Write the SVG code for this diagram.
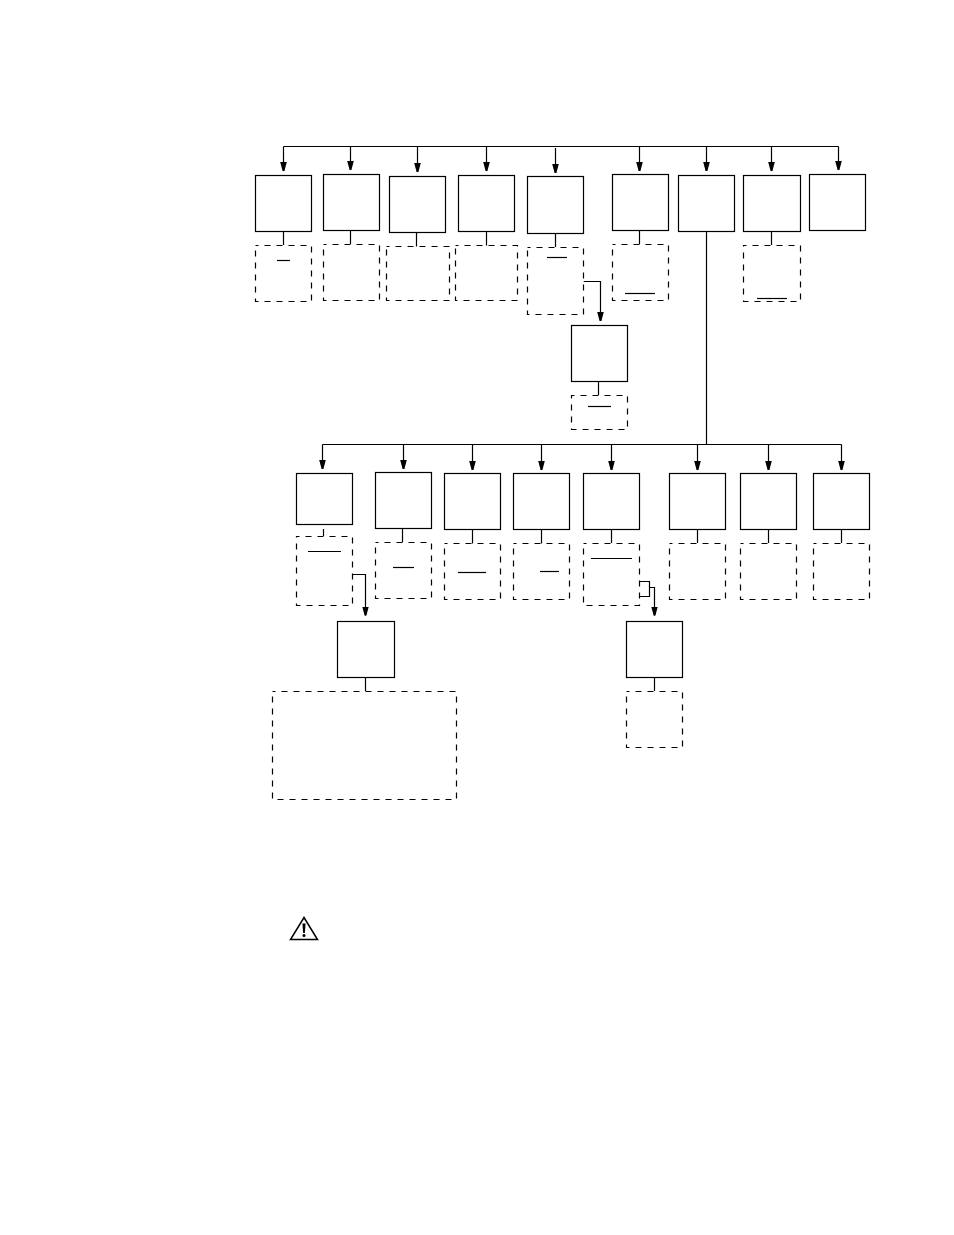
<svg xmlns="http://www.w3.org/2000/svg" width="954" height="1235" viewBox="0 0 954 1235">
<style>
rect{fill:#fff;stroke:#000;stroke-width:1.2}
.d{stroke-dasharray:6 6;stroke-dashoffset:3}
.c path,.c line,.u{fill:none;stroke:#000;stroke-width:1.2}
.a{marker-end:url(#h)}
.w{fill:none;stroke:#000;stroke-width:1.5}
.wf{fill:#000;stroke:none}
</style>
<defs><marker id="h" markerUnits="userSpaceOnUse" markerWidth="9" markerHeight="7" refX="9" refY="3.5" orient="auto" viewBox="0 0 9 7"><path d="M0 .2L9 2.6V4.4L0 6.8Z" fill="#000"/></marker></defs>
<rect width="954" height="1235" style="fill:#fff;stroke:none"/>
<g id="connectors" class="c">
<path d="M283.5 146.5H838.5"/>
<line class="a" x1="283.5" y1="146.5" x2="283.5" y2="171"/>
<line class="a" x1="350.5" y1="146.5" x2="350.5" y2="170"/>
<line class="a" x1="417.5" y1="146.5" x2="417.5" y2="172"/>
<line class="a" x1="486.5" y1="146.5" x2="486.5" y2="171"/>
<line class="a" x1="555.5" y1="148" x2="555.5" y2="173"/>
<line class="a" x1="639.5" y1="146.5" x2="639.5" y2="171"/>
<line class="a" x1="706.5" y1="146.5" x2="706.5" y2="171"/>
<line class="a" x1="771.5" y1="146.5" x2="771.5" y2="171"/>
<line class="a" x1="838.5" y1="146.5" x2="838.5" y2="170"/>
<line x1="283.5" y1="231.5" x2="283.5" y2="245"/>
<line x1="350.5" y1="230.5" x2="350.5" y2="244"/>
<line x1="416.5" y1="232.5" x2="416.5" y2="249"/>
<line x1="486.5" y1="231.5" x2="486.5" y2="248"/>
<line x1="555.5" y1="233.5" x2="555.5" y2="247"/>
<line x1="639.5" y1="230.5" x2="639.5" y2="244"/>
<line x1="771.5" y1="231.5" x2="771.5" y2="245"/>
<line x1="598.5" y1="381.5" x2="598.5" y2="395"/>
<path class="a" d="M583.5 281.5H600.5V321"/>
<path d="M706.5 231.5V444.5"/>
<path d="M322.5 444.5H841.5"/>
<line class="a" x1="322.5" y1="444.5" x2="322.5" y2="469"/>
<line class="a" x1="403.5" y1="444.5" x2="403.5" y2="469"/>
<line class="a" x1="472.5" y1="444.5" x2="472.5" y2="470"/>
<line class="a" x1="541.5" y1="444.5" x2="541.5" y2="470"/>
<line class="a" x1="611.5" y1="444.5" x2="611.5" y2="470"/>
<line class="a" x1="697.5" y1="444.5" x2="697.5" y2="470"/>
<line class="a" x1="768.5" y1="444.5" x2="768.5" y2="470"/>
<line class="a" x1="841.5" y1="444.5" x2="841.5" y2="470"/>
<line x1="323.5" y1="529" x2="323.5" y2="536"/>
<line x1="402.5" y1="528.5" x2="402.5" y2="542"/>
<line x1="472.5" y1="529.5" x2="472.5" y2="546"/>
<line x1="541.5" y1="529.5" x2="541.5" y2="546"/>
<line x1="611.5" y1="529.5" x2="611.5" y2="543"/>
<line x1="697.5" y1="529.5" x2="697.5" y2="543"/>
<line x1="768.5" y1="529.5" x2="768.5" y2="543"/>
<line x1="841.5" y1="529.5" x2="841.5" y2="543"/>
<path class="a" d="M352.5 574.5H365.5V615.5"/>
<line x1="365.5" y1="677.5" x2="365.5" y2="691"/>
<path d="M639.5 581.5H649.5V596.5H639.5"/>
<path class="a" d="M649.5 587.5H654.5V615.5"/>
<line x1="654.5" y1="677.5" x2="654.5" y2="691"/>
</g>
<g id="n1"><rect x="255.5" y="175.5" width="56" height="56"/></g>
<g id="n1d"><rect class="d" x="255.5" y="245.5" width="56" height="56"/><line class="u" x1="277" y1="260.5" x2="290" y2="260.5"/></g>
<g id="n2"><rect x="323.5" y="174.5" width="56" height="56"/></g>
<g id="n2d"><rect class="d" x="323.5" y="244.5" width="56" height="56"/></g>
<g id="n3"><rect x="389.5" y="176.5" width="56" height="56"/></g>
<g id="n3d"><rect class="d" x="386.5" y="246.5" width="63" height="54"/></g>
<g id="n4"><rect x="458.5" y="175.5" width="56" height="56"/></g>
<g id="n4d"><rect class="d" x="455.5" y="245.5" width="62" height="55"/></g>
<g id="n5"><rect x="527.5" y="176.5" width="56" height="57"/></g>
<g id="n5d"><rect class="d" x="527.5" y="247.5" width="56" height="67"/><line class="u" x1="547" y1="257.5" x2="567" y2="257.5"/></g>
<g id="n5b"><rect x="571.5" y="325.5" width="56" height="56"/></g>
<g id="n5bd"><rect class="d" x="571.5" y="395.5" width="56" height="34"/><line class="u" x1="588" y1="406.5" x2="611" y2="406.5"/></g>
<g id="n6"><rect x="612.5" y="174.5" width="56" height="56"/></g>
<g id="n6d"><rect class="d" x="612.5" y="244.5" width="56" height="56"/><line class="u" x1="625" y1="293.5" x2="655" y2="293.5"/></g>
<g id="n7"><rect x="678.5" y="175.5" width="56" height="56"/></g>
<g id="n8"><rect x="743.5" y="175.5" width="57" height="56"/></g>
<g id="n8d"><rect class="d" x="743.5" y="245.5" width="57" height="56"/><line class="u" x1="757" y1="298.5" x2="787" y2="298.5"/></g>
<g id="n9"><rect x="809.5" y="174.5" width="56" height="56"/></g>
<g id="c1"><rect x="296.5" y="473.5" width="56" height="51"/></g>
<g id="c1d"><rect class="d" x="296.5" y="536.5" width="56" height="69"/><line class="u" x1="308" y1="551.5" x2="341" y2="551.5"/></g>
<g id="c1b"><rect x="337.5" y="621.5" width="57" height="56"/></g>
<g id="c1bd"><rect class="d" x="272.5" y="691.5" width="184" height="108"/></g>
<g id="c2"><rect x="375.5" y="472.5" width="56" height="56"/></g>
<g id="c2d"><rect class="d" x="375.5" y="542.5" width="56" height="56"/><line class="u" x1="393" y1="567.5" x2="414" y2="567.5"/></g>
<g id="c3"><rect x="444.5" y="473.5" width="56" height="56"/></g>
<g id="c3d"><rect class="d" x="444.5" y="543.5" width="56" height="56"/><line class="u" x1="458" y1="572.5" x2="486" y2="572.5"/></g>
<g id="c4"><rect x="513.5" y="473.5" width="56" height="56"/></g>
<g id="c4d"><rect class="d" x="513.5" y="543.5" width="56" height="56"/><line class="u" x1="540" y1="571.5" x2="559" y2="571.5"/></g>
<g id="c5"><rect x="583.5" y="473.5" width="56" height="56"/></g>
<g id="c5d"><rect class="d" x="583.5" y="543.5" width="56" height="62"/><line class="u" x1="591" y1="558.5" x2="632" y2="558.5"/></g>
<g id="c5b"><rect x="626.5" y="621.5" width="56" height="56"/></g>
<g id="c5bd"><rect class="d" x="626.5" y="691.5" width="56" height="56"/></g>
<g id="c6"><rect x="669.5" y="473.5" width="56" height="56"/></g>
<g id="c6d"><rect class="d" x="669.5" y="543.5" width="56" height="56"/></g>
<g id="c7"><rect x="740.5" y="473.5" width="56" height="56"/></g>
<g id="c7d"><rect class="d" x="740.5" y="543.5" width="56" height="56"/></g>
<g id="c8"><rect x="813.5" y="473.5" width="56" height="56"/></g>
<g id="c8d"><rect class="d" x="813.5" y="543.5" width="56" height="56"/></g>
<g id="warning"><path class="w" d="M304 917.5L317.5 939.5H290.5Z"/><path class="wf" d="M302.4 923.5H305.6L304.8 933H303.2Z"/><circle class="wf" cx="304" cy="935.6" r="1.5"/></g>
</svg>
